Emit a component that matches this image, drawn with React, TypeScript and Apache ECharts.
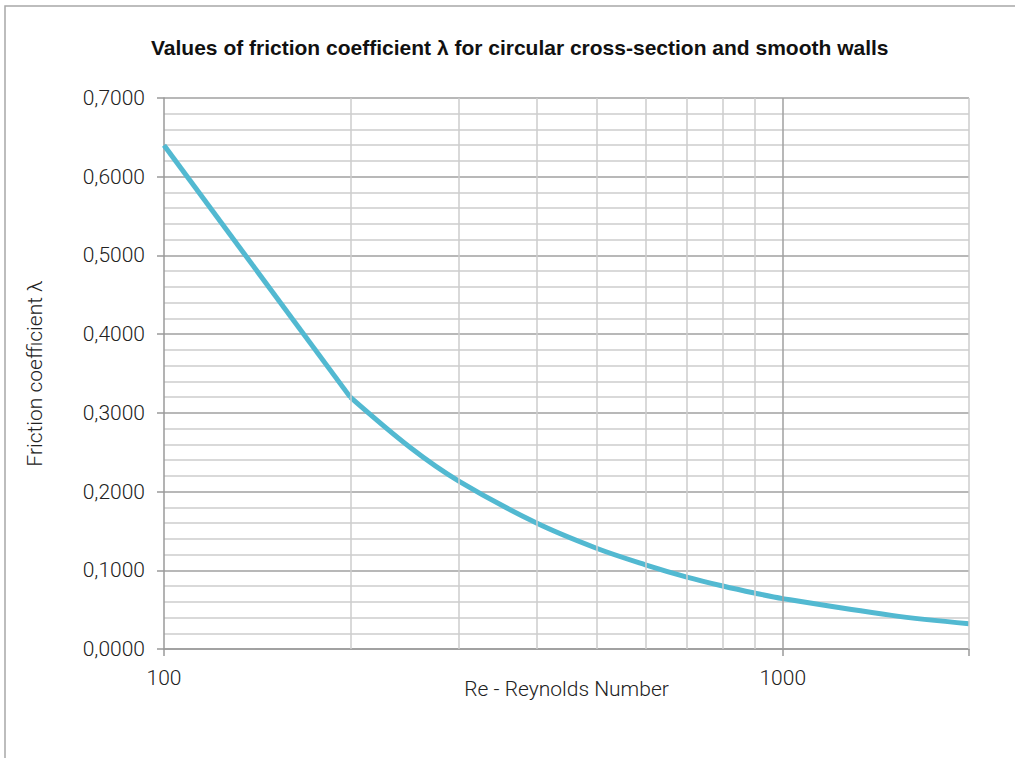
import React, { useEffect, useRef } from "react";
import * as echarts from "echarts";

const titleText = "Values of friction coefficient λ for circular cross-section and smooth walls";
const xAxisName = "Re - Reynolds Number";
const yAxisName = "Friction coefficient λ";

// Straight first segment (Re 100 -> 200)
const reLow = [100, 200];
const lambdaLow = [0.64, 0.32];
// Smooth remainder
const reHigh = [200, 250, 300, 400, 500, 600, 700, 800, 900, 1000, 1500, 2000];
const lambdaHigh = [0.32, 0.256, 0.213, 0.16, 0.128, 0.107, 0.0914, 0.08, 0.0711, 0.064, 0.0427, 0.032];

const xLabelValues = [100, 1000];
const minorVerticals = [200, 300, 400, 500, 600, 700, 800, 900, 2000];
const majorVerticals = [1000];

const FONT = "Roboto, 'Liberation Sans', Arial, sans-serif";

export default function App() {
  const ref = useRef<HTMLDivElement>(null);
  useEffect(() => {
    if (!ref.current) return;
    const chart = echarts.init(ref.current, null, { renderer: "svg" });
    const lineColor = "#52b9d1";
    chart.setOption({
      animation: false,
      backgroundColor: "#ffffff",
      textStyle: { fontFamily: FONT },
      title: {
        text: titleText,
        left: 146,
        top: 32,
        textStyle: {
          fontFamily: "'Liberation Sans', Arial, sans-serif",
          fontWeight: "bold",
          fontSize: 21,
          color: "#111",
        },
      },
      graphic: [
        {
          type: "rect",
          shape: { x: 5, y: 6, width: 1200, height: 900 },
          style: { fill: "none", stroke: "#a8a8a8", lineWidth: 1.5 },
          silent: true,
        },
      ],
      grid: { left: 164, right: 46, top: 98, bottom: 109, containLabel: false },
      xAxis: {
        type: "log",
        logBase: 10,
        min: 100,
        max: 2000,
        name: xAxisName,
        nameLocation: "middle",
        nameGap: 29,
        nameMoveOverlap: false,
        nameTextStyle: { fontSize: 21, color: "#222", fontWeight: 300, fontFamily: FONT },
        axisLine: { show: true, lineStyle: { color: "#9a9a9a", width: 1.5 } },
        axisTick: { show: true, length: 7, lineStyle: { color: "#9a9a9a", width: 1.5 } },
        axisLabel: {
          margin: 18,
          fontSize: 21,
          color: "#222",
          fontWeight: 300,
          fontFamily: FONT,
          formatter: (v: number) => (xLabelValues.some((t) => Math.abs(t - v) < 1e-6) ? String(v) : ""),
        },
        splitLine: { show: false },
      },
      yAxis: {
        type: "value",
        min: 0,
        max: 0.7,
        interval: 0.1,
        name: yAxisName,
        nameLocation: "middle",
        nameGap: 119,
        nameMoveOverlap: false,
        nameTextStyle: { fontSize: 21, color: "#222", fontWeight: 300, fontFamily: FONT },
        axisLine: { show: true, lineStyle: { color: "#9a9a9a", width: 1.5 } },
        axisTick: { show: true, length: 7, lineStyle: { color: "#9a9a9a", width: 1.5 } },
        axisLabel: {
          margin: 19,
          fontSize: 21,
          color: "#222",
          fontWeight: 300,
          fontFamily: FONT,
          formatter: (v: number) => v.toFixed(4).replace(".", ","),
        },
        splitLine: { show: true, lineStyle: { color: "#a0a0a0", width: 1.5 } },
        minorTick: { show: false, splitNumber: 5 },
        minorSplitLine: { show: true, lineStyle: { color: "#cccccc", width: 1.5 } },
      },
      series: [
        {
          type: "line",
          z: 1,
          data: [],
          silent: true,
          markLine: {
            silent: true,
            symbol: "none",
            label: { show: false },
            animation: false,
            data: [
              ...minorVerticals.map((v) => ({ xAxis: v, lineStyle: { color: "#cccccc", width: 1.5, type: "solid" } })),
              ...majorVerticals.map((v) => ({ xAxis: v, lineStyle: { color: "#a0a0a0", width: 1.5, type: "solid" } })),
            ],
          },
        },
        {
          type: "line",
          z: 3,
          showSymbol: false,
          symbol: "none",
          lineStyle: { color: lineColor, width: 5 },
          data: reLow.map((x, i) => [x, lambdaLow[i]]),
        },
        {
          type: "line",
          z: 3,
          smooth: 0.35,
          showSymbol: false,
          symbol: "none",
          lineStyle: { color: lineColor, width: 5 },
          data: reHigh.map((x, i) => [x, lambdaHigh[i]]),
        },
      ],
    });
    return () => chart.dispose();
  }, []);
  return (
    <div
      ref={ref}
      style={{ position: "absolute", left: 0, top: 0, width: 1015, height: 758 }}
    />
  );
}
